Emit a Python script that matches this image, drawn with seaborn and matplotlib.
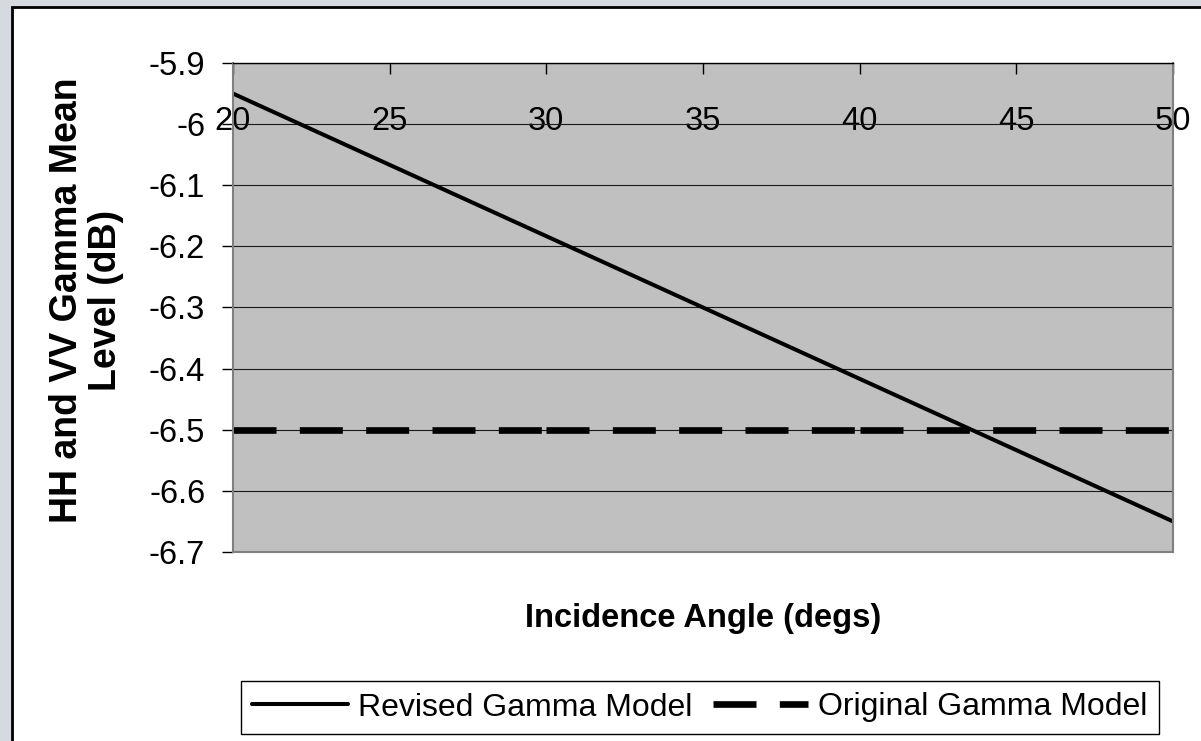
import matplotlib
matplotlib.use('Agg')
import matplotlib.pyplot as plt
from matplotlib.patches import Rectangle
import seaborn as sns

# Data
angles = [20, 30, 40, 50]
revised_gamma = [-5.95, -6.1833, -6.4167, -6.65]
original_gamma = [-6.5, -6.5, -6.5, -6.5]

x_ticks = [20, 25, 30, 35, 40, 45, 50]
y_ticks = [-5.9, -6.0, -6.1, -6.2, -6.3, -6.4, -6.5, -6.6, -6.7]
y_tick_labels = ['-5.9', '-6', '-6.1', '-6.2', '-6.3', '-6.4', '-6.5', '-6.6', '-6.7']

W, H = 1201, 741
FS = 23.5

sns.set_theme(style="white")
plt.rcParams['font.family'] = ['Liberation Sans', 'DejaVu Sans']
plt.rcParams['text.color'] = 'black'

fig = plt.figure(figsize=(W / 100, H / 100), dpi=100, facecolor='#d6d9de')

# white chart area with black frame (right/bottom edges run off the picture)
frame = Rectangle((12 / W, -0.2), 1.5, 0.2 + 1 - 7 / H, transform=fig.transFigure,
                  facecolor='white', edgecolor='black', lw=2, zorder=-1)
fig.patches.append(frame)

ax = fig.add_axes([233 / W, 1 - 552 / H, 940 / W, 489 / H])
ax.set_facecolor('#c0c0c0')

sns.lineplot(x=angles, y=revised_gamma, ax=ax, color='black', lw=2.9,
             label='Revised Gamma Model', legend=False)
# Excel restarts the dash pattern at every data point
for i in range(len(angles) - 1):
    sns.lineplot(x=angles[i:i + 2], y=original_gamma[i:i + 2], ax=ax, color='black',
                 lw=4.8, linestyle=(0, (6.45, 3.5)), dash_capstyle='butt',
                 label='Original Gamma Model' if i == 0 else None, legend=False)

ax.set_xlim(20, 50)
ax.set_ylim(-6.7, -5.9)
ax.set_xticks(x_ticks)
ax.set_xticklabels([str(t) for t in x_ticks])
ax.set_yticks(y_ticks)
ax.set_yticklabels(y_tick_labels)
ax.set_xlabel('')
ax.set_ylabel('')

ax.tick_params(axis='x', top=True, bottom=False, labeltop=True, labelbottom=False,
               direction='in', length=8, width=1, color='black', pad=-53,
               labelsize=FS, labelcolor='black')
ax.tick_params(axis='y', left=True, direction='out', length=8, width=1,
               color='black', pad=12, labelsize=FS, labelcolor='black')

ax.yaxis.grid(True, color='#1a1a1a', lw=0.8)
ax.xaxis.grid(False)
for s in ['left', 'right', 'bottom']:
    ax.spines[s].set_color('#808080')
    ax.spines[s].set_linewidth(1.5)
ax.spines['top'].set_color('black')
ax.spines['top'].set_linewidth(1)

fig.text(86.5 / W, 1 - 300 / H, 'HH and VV Gamma Mean\nLevel (dB)', rotation=90,
         ha='center', va='center', multialignment='center', fontsize=27,
         fontweight='bold', linespacing=1.12, color='black')
fig.text(703 / W, 1 - 618 / H, 'Incidence Angle (degs)', ha='center', va='center',
         fontsize=23.5, fontweight='bold', color='black')

leg = ax.legend(loc='center', bbox_to_anchor=(700 / W, 1 - 707.5 / H),
                bbox_transform=fig.transFigure, ncol=2, fontsize=23, frameon=True,
                fancybox=False, edgecolor='black', framealpha=1, facecolor='white',
                handlelength=3.0, handletextpad=0.31, columnspacing=0.63,
                borderpad=0.35, borderaxespad=0)
leg.get_frame().set_linewidth(1)

fig.savefig('out.png', dpi=100, facecolor=fig.get_facecolor())
